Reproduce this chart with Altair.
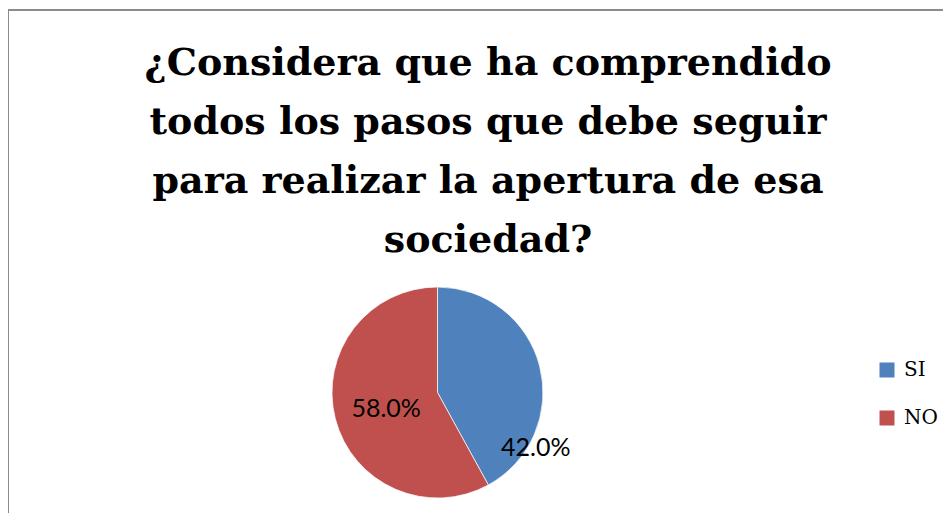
import altair as alt
import pandas as pd

categorias = ["SI", "NO"]
valores = [42.0, 58.0]
colores = ["#4F81BD", "#C0504D"]
titulo = [
    "¿Considera que ha comprendido",
    "todos los pasos que debe seguir",
    "para realizar la apertura de esa",
    "sociedad?",
]

df = pd.DataFrame({
    "categoria": categorias,
    "valor": valores,
    "orden": list(range(len(categorias))),
})
df["etiqueta"] = [f"{v:.1f}%" for v in valores]
TOTAL = float(sum(valores))

CX, CY, R = 429.5, 384.5, 105.5

pie = alt.Chart(df).mark_arc(radius=R, stroke="#ffffff", strokeWidth=0.7).encode(
    theta=alt.Theta("valor:Q", stack=True),
    order=alt.Order("orden:Q"),
    x=alt.value(CX),
    y=alt.value(CY),
    color=alt.Color(
        "categoria:N",
        scale=alt.Scale(domain=categorias, range=colores),
        sort=categorias,
        legend=alt.Legend(
            title=None,
            orient="none",
            legendX=869,
            legendY=352,
            symbolType="square",
            symbolSize=225,
            symbolStrokeWidth=0,
            labelFont="DejaVu Serif",
            labelFontSize=20,
            labelColor="#000000",
            labelOffset=7,
            rowPadding=28,
            padding=0,
        ),
    ),
)

labels_base = (
    alt.Chart(df)
    .transform_stack(
        stack="valor", groupby=[], as_=["v0", "v1"], sort=[alt.SortField("orden")]
    )
    .transform_calculate(mid="(datum.v0 + datum.v1) / 2")
    .encode(
        theta=alt.Theta("mid:Q", stack=None, scale=alt.Scale(domain=[0, TOTAL])),
        x=alt.value(CX),
        y=alt.value(CY),
        text="etiqueta:N",
    )
)

lab_no = labels_base.transform_filter(alt.datum.categoria == "NO").mark_text(
    radius=53, font="Lato", fontSize=25, color="#000000", dy=3
)
lab_si = labels_base.transform_filter(alt.datum.categoria == "SI").mark_text(
    radius=53, font="Lato", fontSize=25, color="#000000", dx=47, dy=69
)

uno = pd.DataFrame({"k": [0]})
title = alt.Chart(uno).mark_text(
    text=titulo,
    font="DejaVu Serif",
    fontSize=38,
    fontWeight="bold",
    lineHeight=59,
    align="center",
    baseline="alphabetic",
    color="#000000",
).encode(x=alt.value(480), y=alt.value(67))

frame_top = alt.Chart(uno).mark_rule(color="#8c8c8c", strokeWidth=2).encode(
    x=alt.value(0), x2=alt.value(935), y=alt.value(2)
)
frame_left = alt.Chart(uno).mark_rule(color="#8c8c8c", strokeWidth=2).encode(
    x=alt.value(0), y=alt.value(2), y2=alt.value(505)
)

chart = alt.layer(frame_top, frame_left, title, pie, lab_no, lab_si).properties(
    width=935,
    height=505,
    autosize=alt.AutoSizeParams(type="none"),
    padding=0,
).configure_view(stroke=None)

chart.save("out.html", embed_options={"renderer": "svg", "actions": False})
